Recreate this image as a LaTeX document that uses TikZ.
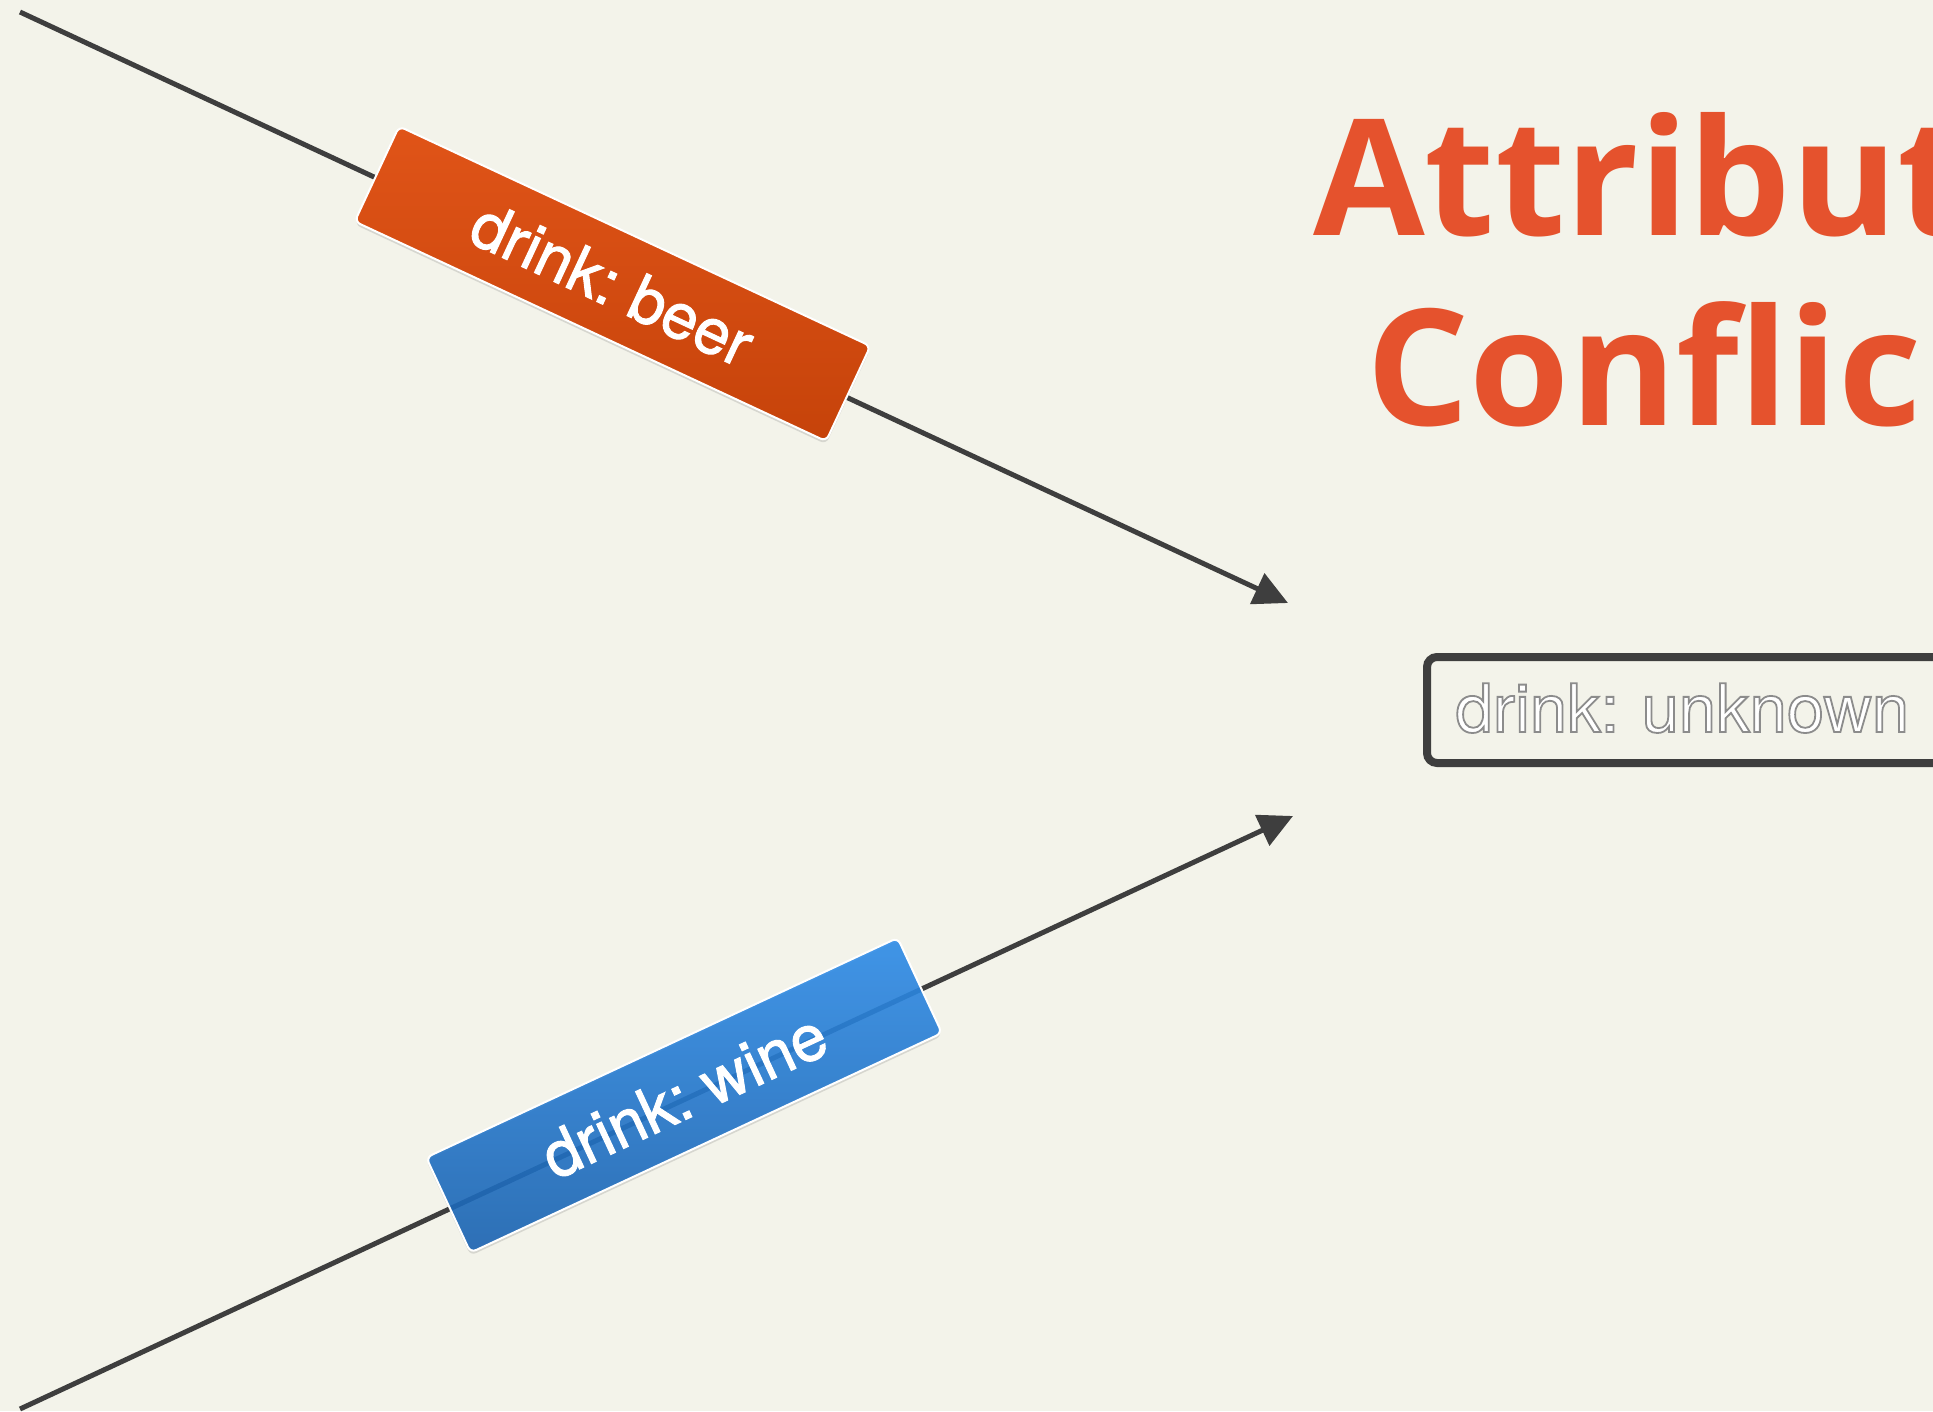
\documentclass[tikz,border=0pt]{standalone}
\usepackage{fontspec}
\setmainfont{TeX Gyre Heros}
\newfontfamily\labelfont{TeX Gyre Heros}[FakeBold=1.5]
\newfontfamily\unkfont{TeX Gyre Heros}
\IfFontExistsTF{Open Sans Bold}
  {\newfontfamily\titlefont{Open Sans Bold}}
  {\IfFontExistsTF{Noto Sans Bold}
     {\newfontfamily\titlefont{Noto Sans Bold}}
     {\newfontfamily\titlefont{Noto Sans}[FakeBold=2.5]}}
\usetikzlibrary{arrows.meta,shadows}
\definecolor{bg}{HTML}{F3F3EA}
\definecolor{linegray}{HTML}{3E3E3E}
\definecolor{titlered}{HTML}{E5522D}
\definecolor{beertop}{HTML}{E05418}
\definecolor{beerbot}{HTML}{C6430A}
\definecolor{winetop}{HTML}{2C8CEA}
\definecolor{winebot}{HTML}{1762B2}
\newcommand{\outlinedtext}[1]{\special{pdf:literal direct 2 Tr 0.55 G 1.8 w}#1\special{pdf:literal direct 0 Tr}}
\tikzset{
  conn/.style={draw=linegray, line width=5pt, -{Triangle[length=34pt,width=33pt]}},
  tagbox/.style={sloped, yshift=4pt, rounded corners=6pt, draw=white, line width=2pt,
    minimum width=520pt, minimum height=105pt, inner sep=0pt, text=white,
    font=\labelfont\fontsize{64}{64}\selectfont,
    drop shadow={shadow xshift=0pt, shadow yshift=-3pt, opacity=0.25}},
  beertag/.style={tagbox, top color=beertop, bottom color=beerbot},
  winetag/.style={tagbox, top color=winetop, bottom color=winebot, fill opacity=0.88, text opacity=1},
  titletext/.style={inner sep=0pt, anchor=base west, text=titlered,
    font=\titlefont\fontsize{162}{162}\selectfont},
  unkbox/.style={draw=linegray, line width=8pt, rounded corners=10pt, anchor=west,
    minimum height=106pt, text width=700pt, align=left, inner xsep=28.5pt, inner ysep=0pt,
    text height=48pt, text depth=4pt, text=white, font=\unkfont\fontsize{67}{67}\selectfont}
}
\begin{document}
\frenchspacing
\begin{tikzpicture}[x=1pt,y=-1pt]
  \useasboundingbox (0,0) rectangle (1933,1411);
  \clip (0,0) rectangle (1933,1411);
  \fill[bg] (0,0) rectangle (1933,1411);

  \coordinate (s1) at (20,12);
  \coordinate (e1) at (1288,603);
  \coordinate (s2) at (20,1409);
  \coordinate (e2) at (1293,816);

  \draw[conn] (s1) -- node[beertag, pos=0.466] (beer) {drink: beer} (e1);
  \draw[conn] (s2) -- node[winetag, pos=0.523] (wine) {drink: wine} (e2);

  \node[titletext] (t1) at (1313,235) {Attribut};
  \node[titletext] (t2) at (1366.5,425) {Conflic};

  \node[unkbox] (unk) at (1423,710) {\outlinedtext{drink: unknown}};
\end{tikzpicture}
\end{document}
